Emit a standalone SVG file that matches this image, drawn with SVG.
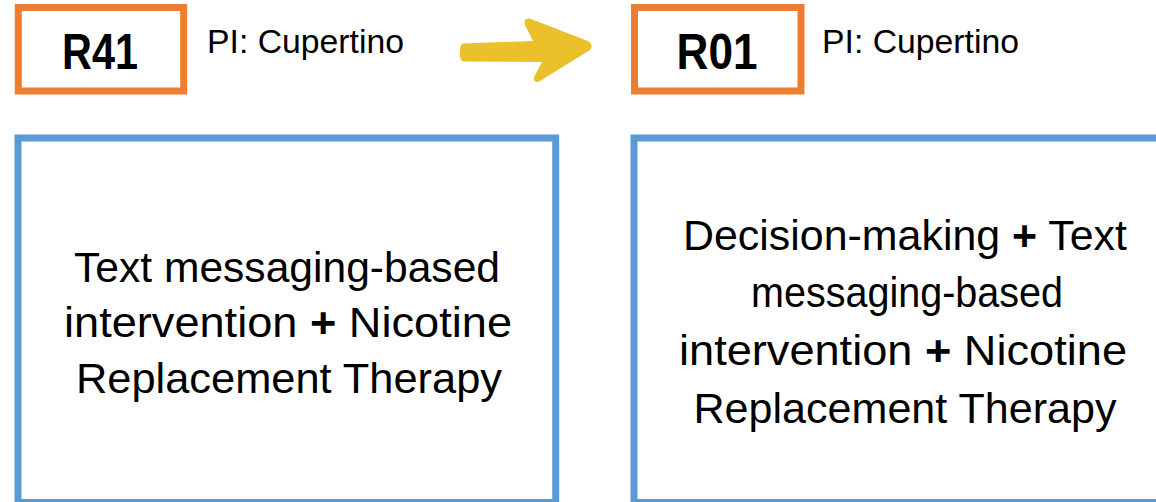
<svg xmlns="http://www.w3.org/2000/svg" width="1156" height="502" viewBox="0 0 1156 502">
  <style>
    .orange { fill: #ffffff; stroke: #ED7D31; stroke-width: 7; }
    .blue { fill: #ffffff; stroke: #5B9BD5; stroke-width: 7; }
    .code { font-family: "Liberation Sans", Arial, sans-serif; font-weight: bold; font-size: 50px; fill: #000000; text-anchor: middle; }
    .pi { font-family: "Liberation Sans", Arial, sans-serif; font-size: 33px; fill: #000000; }
    .body { font-family: "Liberation Sans", Arial, sans-serif; font-size: 42px; fill: #000000; text-anchor: middle; }
    .plus { font-weight: bold; }
    .arrow { fill: #EAC12B; stroke: none; }
  </style>
  <rect width="1156" height="502" fill="#ffffff"/>

  <g id="node-r41">
    <rect class="orange" x="18.3" y="7.5" width="165.4" height="83.5"/>
    <text class="code" x="100" y="69" textLength="76" lengthAdjust="spacingAndGlyphs">R41</text>
  </g>
  <g id="label-pi-1">
    <text class="pi" x="207" y="53" textLength="197" lengthAdjust="spacingAndGlyphs">PI: Cupertino</text>
  </g>

  <g id="node-r01">
    <rect class="orange" x="634.5" y="7.5" width="166.5" height="83.5"/>
    <text class="code" x="717" y="68.5" textLength="81" lengthAdjust="spacingAndGlyphs">R01</text>
  </g>
  <g id="label-pi-2">
    <text class="pi" x="822" y="53" textLength="197" lengthAdjust="spacingAndGlyphs">PI: Cupertino</text>
  </g>

  <g id="node-r41-content">
    <rect class="blue" x="18" y="138" width="537.7" height="364.5"/>
    <text class="body" x="287" y="282" textLength="426" lengthAdjust="spacingAndGlyphs">Text messaging-based</text>
    <text class="body" x="288" y="337" textLength="448" lengthAdjust="spacingAndGlyphs">intervention <tspan class="plus">+</tspan> Nicotine</text>
    <text class="body" x="289" y="393" textLength="426" lengthAdjust="spacingAndGlyphs">Replacement Therapy</text>
  </g>

  <g id="node-r01-content">
    <rect class="blue" x="634" y="138" width="538" height="364.5"/>
    <text class="body" x="905" y="250" textLength="444" lengthAdjust="spacingAndGlyphs">Decision-making <tspan class="plus">+</tspan> Text</text>
    <text class="body" x="907" y="307" textLength="312" lengthAdjust="spacingAndGlyphs">messaging-based</text>
    <text class="body" x="903" y="365" textLength="448" lengthAdjust="spacingAndGlyphs">intervention <tspan class="plus">+</tspan> Nicotine</text>
    <text class="body" x="905" y="423" textLength="423" lengthAdjust="spacingAndGlyphs">Replacement Therapy</text>
  </g>

  <g id="connectors">
    <path class="arrow" d="M 463,43.5 L 533,41 L 525,25 Q 523,17 531,19 L 588,41 Q 594,45 590,50 L 540,81 Q 533,84 534,77 L 542,62 L 464,61.5 Q 459,60.5 460,52 Q 460,43.5 463,43.5 Z"/>
  </g>
</svg>
